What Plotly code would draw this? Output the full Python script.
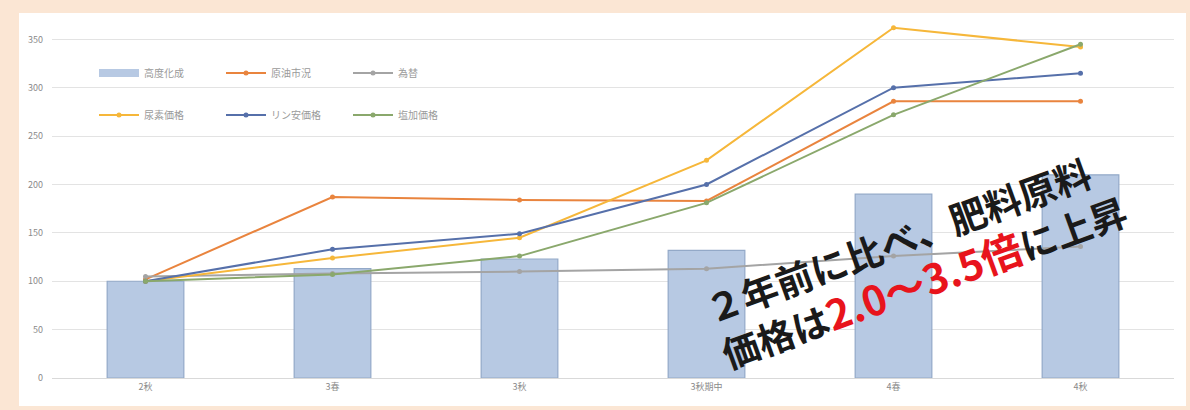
import plotly.graph_objects as go

categories = ["2秋", "3春", "3秋", "3秋期中", "4春", "4秋"]
bar_name = "高度化成"
bar_values = [100, 113, 123, 132, 190, 210]

oil_name = "原油市況"
oil_values = [102, 187, 184, 183, 286, 286]
fx_name = "為替"
fx_values = [105, 108, 110, 113, 126, 136]
urea_name = "尿素価格"
urea_values = [100, 124, 145, 225, 362, 342]
phos_name = "リン安価格"
phos_values = [100, 133, 149, 200, 300, 315]
pot_name = "塩加価格"
pot_values = [100, 107, 126, 181, 272, 345]

y_ticks = [0, 50, 100, 150, 200, 250, 300, 350]

W, H = 1190, 410
ML, MR, MT, MB = 52, 16, 20, 32
pw, ph = W - ML - MR, H - MT - MB

def px_x(x):
    return (x - ML) / pw

def px_y(y):
    return (H - MB - y) / ph

BAR_FILL = "#b7c9e3"
BAR_EDGE = "#93a9c8"

fig = go.Figure()
fig.add_trace(go.Bar(
    x=categories, y=bar_values, name=bar_name, width=0.41,
    marker=dict(color=BAR_FILL, line=dict(color=BAR_EDGE, width=1.2)),
    showlegend=False,
))
# legend-only entry to show the bar series with a wide swatch
fig.add_trace(go.Scatter(
    x=[None], y=[None], name=bar_name, mode="lines",
    line=dict(color=BAR_FILL, width=8), legend="legend",
))

line_specs = [
    (oil_name, oil_values, "#e9843e", "legend"),
    (fx_name, fx_values, "#a4a4a4", "legend"),
    (urea_name, urea_values, "#f6b73a", "legend2"),
    (phos_name, phos_values, "#5670aa", "legend2"),
    (pot_name, pot_values, "#8aa86c", "legend2"),
]
for name, vals, col, lg in line_specs:
    fig.add_trace(go.Scatter(
        x=categories, y=vals, name=name, mode="lines+markers",
        line=dict(color=col, width=2),
        marker=dict(color=col, size=5),
        legend=lg,
    ))

legend_common = dict(
    orientation="h", xanchor="left", yanchor="middle",
    font=dict(family="Noto Sans CJK JP", size=10, color="#9a9a9a"),
    bgcolor="rgba(0,0,0,0)", entrywidth=72, entrywidthmode="pixels",
    itemwidth=40, tracegroupgap=0,
)

fig.update_layout(
    width=W, height=H,
    margin=dict(l=ML, r=MR, t=MT, b=MB),
    paper_bgcolor="#fbe6d4",
    plot_bgcolor="#ffffff",
    showlegend=True,
    legend=dict(x=px_x(94), y=px_y(73), **legend_common),
    legend2=dict(x=px_x(94), y=px_y(115), **legend_common),
    xaxis=dict(
        type="category", showgrid=False, showline=True, linecolor="#d9d9d9",
        tickfont=dict(family="Noto Sans CJK JP", size=9, color="#8a8a8a"),
        ticks="", range=[-0.5, 5.5],
    ),
    yaxis=dict(
        range=[0, 370], tickvals=y_ticks, showgrid=True, gridcolor="#e3e3e3",
        gridwidth=1, zeroline=False, showline=False,
        tickfont=dict(family="Noto Sans CJK JP", size=9, color="#8a8a8a"),
        ticks="", ticklabelstandoff=8,
    ),
    shapes=[dict(
        type="rect", xref="paper", yref="paper", layer="below",
        x0=px_x(19), x1=px_x(1186), y0=px_y(406), y1=px_y(13),
        fillcolor="#ffffff", line=dict(width=0),
    )],
    bargap=0.59,
)

fig.add_annotation(
    xref="paper", yref="paper", x=px_x(915), y=px_y(259),
    xanchor="center", yanchor="middle", showarrow=False,
    textangle=-20, align="left",
    text=("２年前に比べ、肥料原料<br>価格は"
          "<span style='color:#e8141c;font-size:41px'>2.0～3.5倍</span>に上昇"),
    font=dict(family="Noto Sans CJK JP", size=37, color="#1a1a1a", weight="bold"),
)

fig.write_html("out.html", config={"displayModeBar": False},
               post_script="document.body.style.margin='0';")
